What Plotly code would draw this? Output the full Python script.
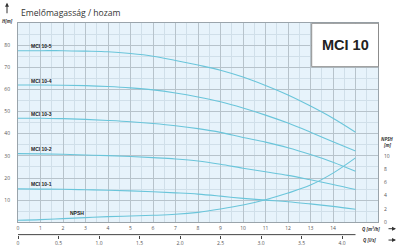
import plotly.graph_objects as go

# ---- data ----
Q = list(range(0, 16))  # m3/h
H_10_5 = [77.5, 77.5, 77.5, 77.3, 77.0, 76.2, 75.0, 73.1, 71.0, 68.7, 65.6, 61.8, 57.5, 52.5, 47.0, 40.7]
H_10_4 = [62.0, 62.0, 61.9, 61.7, 61.3, 60.7, 59.8, 58.4, 56.6, 54.4, 51.6, 48.4, 44.8, 40.7, 36.4, 32.2]
H_10_3 = [47.0, 47.0, 46.8, 46.5, 46.0, 45.4, 44.6, 43.6, 42.3, 40.6, 38.3, 36.2, 33.7, 30.6, 27.1, 23.0]
H_10_2 = [31.0, 30.9, 30.7, 30.4, 30.1, 29.7, 29.2, 28.6, 27.7, 26.2, 24.4, 22.8, 21.2, 19.2, 17.1, 14.8]
H_10_1 = [15.1, 15.0, 14.9, 14.7, 14.5, 14.2, 13.8, 13.3, 12.7, 11.8, 10.8, 10.0, 9.3, 8.3, 7.2, 5.9]
NPSH = [0.3, 0.4, 0.55, 0.7, 0.85, 0.95, 1.05, 1.2, 1.5, 2.0, 2.6, 3.4, 4.4, 5.6, 7.4, 9.7]

series_names = ["MCI 10-5", "MCI 10-4", "MCI 10-3", "MCI 10-2", "MCI 10-1"]
series_values = [H_10_5, H_10_4, H_10_3, H_10_2, H_10_1]

x_tick_vals = list(range(0, 16))
x_tick_text = [str(v) for v in range(0, 15)] + [""]
y_tick_vals = [10, 20, 30, 40, 50, 60, 70, 80]
npsh_tick_vals = [0, 2, 4, 6, 8, 10]
ls_tick_vals = [0, 0.5, 1.0, 1.5, 2.0, 2.5, 3.0, 3.5, 4.0]
ls_tick_text = ["0", "0.5", "1.0", "1.5", "2.0", "2.5", "3.0", "3.5", "4.0"]

# ---- styles / geometry ----
W, HGT = 400, 251
ML, MR, MT, MB = 18, 22, 23, 4
PLOT_BOTTOM_PX = 225
AREA_H = HGT - MT - MB
M3H_PER_LS = 3.6


def px_x(x):
    return (x - ML) / (W - ML - MR)


def px_y(y):
    return (HGT - MB - y) / AREA_H


LINE_COLOR = "#6ac5da"
BG = "#e7f3fb"
GRID_MAJOR = "#b7c3cb"
GRID_MINOR = "#d0dfe9"
TXT = "#333333"
TICK_FONT = dict(family="Open Sans, Arial", size=5, color="#555555")
LABEL_FONT = dict(family="Liberation Sans, Arial", size=5, color="#222222")

fig = go.Figure()

for name, vals in zip(series_names, series_values):
    fig.add_trace(go.Scatter(x=Q, y=vals, mode="lines", name=name,
                             line=dict(color=LINE_COLOR, width=1.1, shape="spline"),
                             showlegend=False, hoverinfo="skip"))

fig.add_trace(go.Scatter(x=Q, y=NPSH, mode="lines", name="NPSH", yaxis="y2",
                         line=dict(color=LINE_COLOR, width=1.1, shape="spline"),
                         showlegend=False, hoverinfo="skip"))

# invisible trace binding the l/s axis
fig.add_trace(go.Scatter(x=[q / M3H_PER_LS for q in Q], y=[None] * len(Q), xaxis="x2",
                         mode="lines", showlegend=False, hoverinfo="skip"))

ydom0 = px_y(PLOT_BOTTOM_PX)

fig.update_layout(
    width=W, height=HGT,
    margin=dict(l=ML, r=MR, t=MT, b=MB, pad=0),
    paper_bgcolor="white",
    plot_bgcolor=BG,
    xaxis=dict(range=[0, 16], domain=[0, 1], tickmode="array", tickvals=x_tick_vals,
               ticktext=x_tick_text, showgrid=True, gridcolor=GRID_MAJOR, gridwidth=1,
               minor=dict(dtick=0.5, tick0=0, showgrid=True, gridcolor=GRID_MINOR, gridwidth=1),
               showline=True, linecolor="#9aa4ab", linewidth=1, mirror=True,
               ticks="", tickfont=TICK_FONT, ticklabelstandoff=1, zeroline=False),
    yaxis=dict(range=[0, 90], domain=[ydom0, 1], tickmode="array", tickvals=y_tick_vals,
               showgrid=True, gridcolor=GRID_MAJOR, gridwidth=1,
               minor=dict(dtick=5, tick0=0, showgrid=True, gridcolor=GRID_MINOR, gridwidth=1),
               showline=True, linecolor="#9aa4ab", linewidth=1, mirror=True,
               ticks="", tickfont=TICK_FONT, ticklabelstandoff=6, zeroline=False),
    yaxis2=dict(range=[0, 30], overlaying="y", side="right", tickmode="array",
                tickvals=npsh_tick_vals, showgrid=False, showline=False, ticks="",
                tickfont=TICK_FONT, ticklabelstandoff=5, zeroline=False),
    xaxis2=dict(range=[0, 16 / M3H_PER_LS], overlaying="x", anchor="free",
                position=px_y(237.5), side="bottom", tickmode="array",
                tickvals=ls_tick_vals, ticktext=ls_tick_text, showgrid=False,
                showline=False, ticks="outside",
                ticklen=3, tickcolor="#444444", tickwidth=1, tickfont=TICK_FONT,
                zeroline=False),
)

# l/s axis line (spans the pump's flow range only)
fig.add_shape(type="line", xref="x", yref="paper", x0=Q[0], x1=Q[-1],
              y0=px_y(237.5), y1=px_y(237.5), line=dict(color="#444444", width=1))

# MCI 10 box
fig.add_shape(type="rect", xref="paper", yref="paper",
              x0=px_x(311.7), x1=px_x(378.5), y0=px_y(67.3), y1=px_y(23.3),
              fillcolor="white", line=dict(color="#8c8c8c", width=1), layer="above")
fig.add_annotation(xref="paper", yref="paper", x=px_x(345.5), y=px_y(45.5),
                   text="<b>MCI 10</b>", showarrow=False, xanchor="center", yanchor="middle",
                   font=dict(family="Liberation Sans, Arial", size=14.5, color="#222222"))

# curve labels
label_offsets = [2.2, 1.7, 1.9, 2.2, 2.0]
for name, vals, off in zip(series_names, series_values, label_offsets):
    fig.add_annotation(x=0.5, y=vals[0] + off, xref="x", yref="y", text="<b>" + name + "</b>",
                       showarrow=False, xanchor="left", yanchor="middle", font=LABEL_FONT)
fig.add_annotation(x=2.2, y=4.4, xref="x", yref="y", text="<b>NPSH</b>",
                   showarrow=False, xanchor="left", yanchor="middle", font=LABEL_FONT)

# title and axis captions
fig.add_annotation(xref="paper", yref="paper", x=px_x(18.5), y=px_y(12.5),
                   text="Emelőmagasság / hozam", showarrow=False, xanchor="left", yanchor="middle",
                   font=dict(family="Open Sans, Arial", size=8.6, color=TXT))
fig.add_annotation(xref="paper", yref="paper", x=px_x(7), y=px_y(2.5), ax=0, ay=12,
                   text="", showarrow=True, arrowhead=2, arrowsize=0.8, arrowwidth=1,
                   arrowcolor=TXT)
fig.add_annotation(xref="paper", yref="paper", x=px_x(7.5), y=px_y(21),
                   text="<i><b>H[m]</b></i>", showarrow=False, xanchor="center", yanchor="middle",
                   font=dict(family="Open Sans, Arial", size=4.5, color=TXT))
fig.add_annotation(xref="paper", yref="paper", x=px_x(388), y=px_y(141),
                   text="<i><b>NPSH</b></i>", showarrow=False, xanchor="center", yanchor="middle",
                   font=dict(family="Open Sans, Arial", size=4.5, color=TXT))
fig.add_annotation(xref="paper", yref="paper", x=px_x(388), y=px_y(147),
                   text="<i><b>[m]</b></i>", showarrow=False, xanchor="center", yanchor="middle",
                   font=dict(family="Open Sans, Arial", size=4.5, color=TXT))
fig.add_annotation(xref="paper", yref="paper", x=px_x(360), y=px_y(231.5),
                   text="<i><b>Q [m³/h]</b></i>", showarrow=False, xanchor="left", yanchor="middle",
                   font=dict(family="Open Sans, Arial", size=4.5, color=TXT))
fig.add_annotation(xref="paper", yref="paper", x=px_x(361), y=px_y(243),
                   text="<i><b>Q [l/s]</b></i>", showarrow=False, xanchor="left", yanchor="middle",
                   font=dict(family="Open Sans, Arial", size=4.5, color=TXT))
for ypx in (231.5, 243):
    fig.add_annotation(xref="paper", yref="paper", x=px_x(396), y=px_y(ypx), ax=-9, ay=0,
                       text="", showarrow=True, arrowhead=2, arrowsize=0.8, arrowwidth=1,
                       arrowcolor=TXT)

fig.write_html("out.html")
